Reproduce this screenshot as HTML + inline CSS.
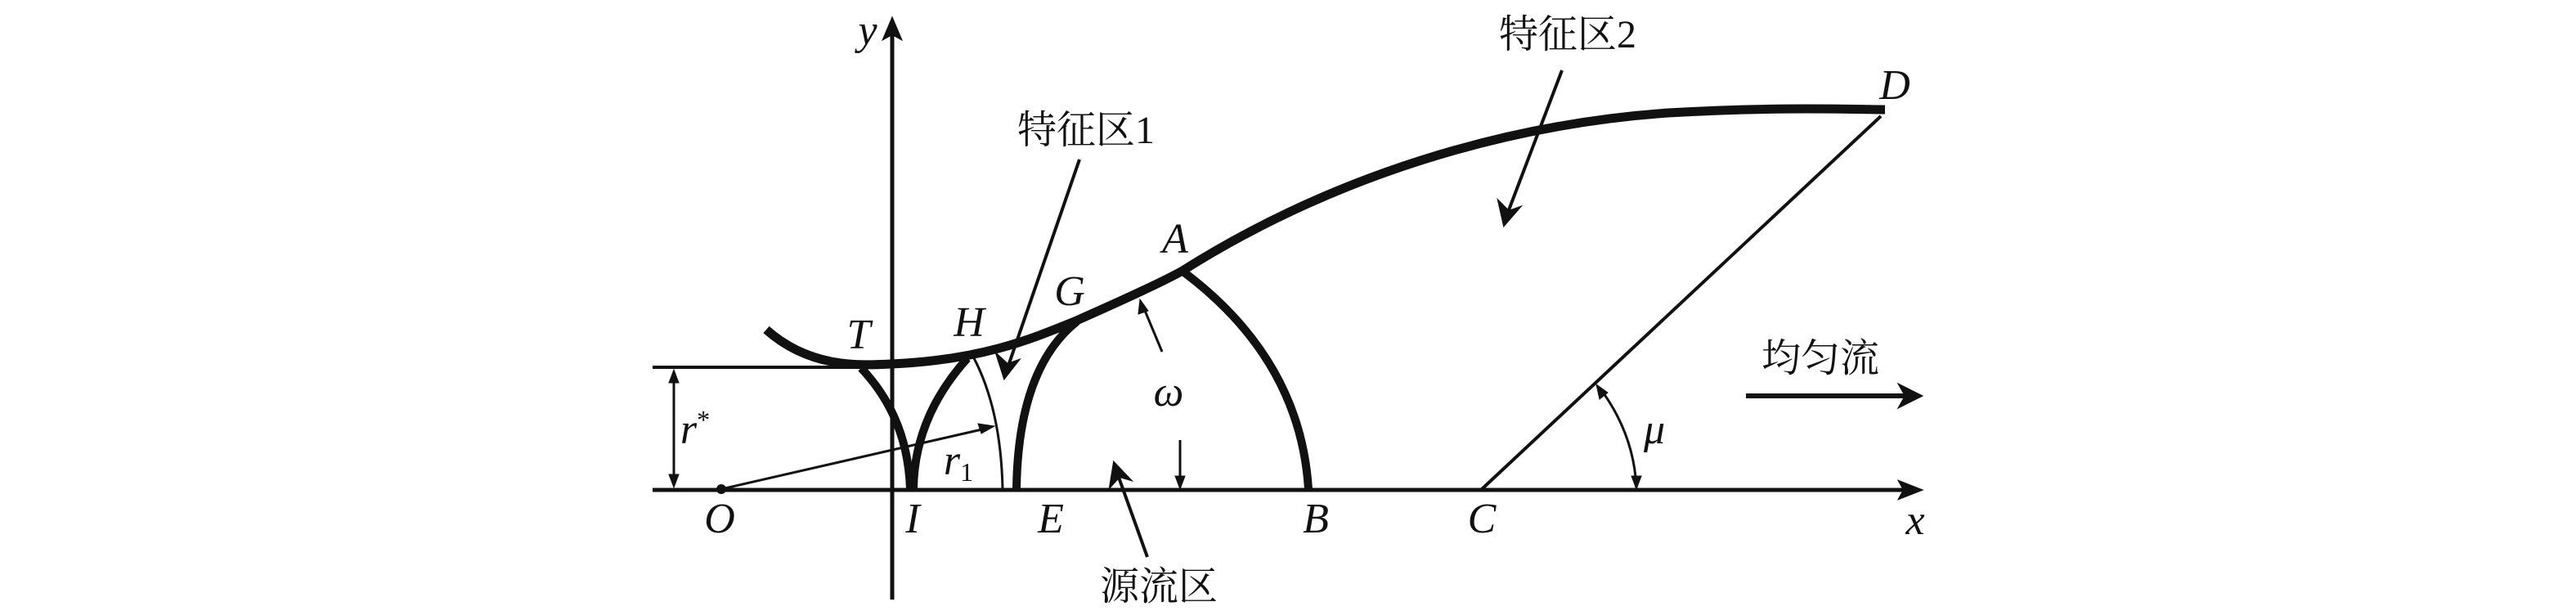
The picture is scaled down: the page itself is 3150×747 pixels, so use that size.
<!DOCTYPE html>
<html><head><meta charset="utf-8"><style>
html,body{margin:0;padding:0;background:#fff;}
svg{display:block}
.l{font-family:"Liberation Serif",serif;font-style:italic;font-size:52px;fill:#111}
.c{font-family:"Liberation Serif","Noto Serif CJK SC",serif;font-size:48px;fill:#111}
</style></head><body>
<svg width="3150" height="747" viewBox="0 0 3150 747" xmlns="http://www.w3.org/2000/svg">
<rect width="3150" height="747" fill="#fff"/>
<g stroke="#111" fill="none" stroke-linecap="butt">
<line x1="798" y1="599" x2="2340" y2="599" stroke-width="5"/>
<path d="M2350 599 L2322 588 L2328 599 L2322 610 Z" fill="#111" stroke-width="2"/>
<line x1="1091" y1="733" x2="1091" y2="36" stroke-width="5"/>
<path d="M1091 22 L1080 48 L1091 42 L1102 48 Z" fill="#111" stroke-width="2"/>
<line x1="798" y1="449" x2="1060" y2="449" stroke-width="4"/>
<line x1="824" y1="456" x2="824" y2="592" stroke-width="3"/>
<path d="M824 452 L818 468 L830 468 Z M824 596 L818 580 L830 580 Z" fill="#111" stroke-width="1"/>
<line x1="882" y1="598" x2="1205" y2="524" stroke-width="3"/>
<path d="M1216 521 L1196 518 L1200 530 Z" fill="#111" stroke-width="1"/>
<circle cx="882" cy="598" r="6" fill="#111" stroke="none"/>
<path d="M1190 436 Q1224 500 1226 598" stroke-width="3"/>
<path d="M937 403 C990 450 1050 447 1090 445 C1200 440 1260 415 1314 393 C1400 355 1430 340 1446 331 C1630 215 1840 152 2040 138 C2180 130 2270 134 2305 134" stroke-width="11"/>
<path d="M1053 450 Q1110 510 1113 598" stroke-width="10"/>
<path d="M1183 438 Q1118 510 1117 598" stroke-width="10"/>
<path d="M1317 393 Q1245 450 1243 598" stroke-width="10"/>
<path d="M1448 333 Q1590 440 1600 598" stroke-width="10"/>
<line x1="1812" y1="598" x2="2300" y2="142" stroke-width="4"/>
<path d="M1956 474 Q1998 530 2001 596" stroke-width="3"/>
<path d="M1952 470 L1956 488 L1966 480 Z" fill="#111" stroke-width="1"/>
<path d="M2001 598 L1995 582 L2007 582 Z" fill="#111" stroke-width="1"/>
<line x1="1421" y1="430" x2="1398" y2="375" stroke-width="3"/>
<path d="M1394 366 L1392 384 L1404 380 Z" fill="#111" stroke-width="1"/>
<line x1="1443" y1="538" x2="1443" y2="590" stroke-width="3"/>
<path d="M1443 598 L1437 582 L1449 582 Z" fill="#111" stroke-width="1"/>
<line x1="1320" y1="195" x2="1232" y2="450" stroke-width="4"/>
<path d="M1228 463 L1218 432 L1232 445 L1246 440 Z" fill="#111" stroke-width="2"/>
<line x1="1910" y1="86" x2="1843" y2="262" stroke-width="4"/>
<path d="M1839 276 L1832 245 L1845 258 L1859 253 Z" fill="#111" stroke-width="2"/>
<line x1="1403" y1="681" x2="1366" y2="578" stroke-width="4"/>
<path d="M1362 565 L1357 596 L1369 583 L1383 587 Z" fill="#111" stroke-width="2"/>
<line x1="2135" y1="484" x2="2335" y2="484" stroke-width="6"/>
<path d="M2350 484 L2322 470 L2330 484 L2322 498 Z" fill="#111" stroke-width="2"/>
</g>
<g class="l" text-anchor="middle">
<text x="1061" y="54">y</text>
<text x="1050" y="426">T</text>
<text x="1185" y="411">H</text>
<text x="1308" y="373">G</text>
<text x="1437" y="309">A</text>
<text x="2317" y="121">D</text>
<text x="880" y="651">O</text>
<text x="1116" y="651">I</text>
<text x="1285" y="651">E</text>
<text x="1609" y="651">B</text>
<text x="1812" y="651">C</text>
<text x="2342" y="653">x</text>
<text x="850" y="542">r<tspan font-size="32" dy="-18" font-style="normal">*</tspan></text>
<text x="1172" y="580">r<tspan font-size="32" dy="8" font-style="normal">1</tspan></text>
<text x="1429" y="496">ω</text>
<text x="2023" y="542">μ</text>
</g>
<g class="c" text-anchor="middle">
<text x="1328" y="175">特征区1</text>
<text x="1917" y="58">特征区2</text>
<text x="1417" y="733">源流区</text>
<text x="2226" y="454">均匀流</text>
</g>
</svg>
</body></html>
